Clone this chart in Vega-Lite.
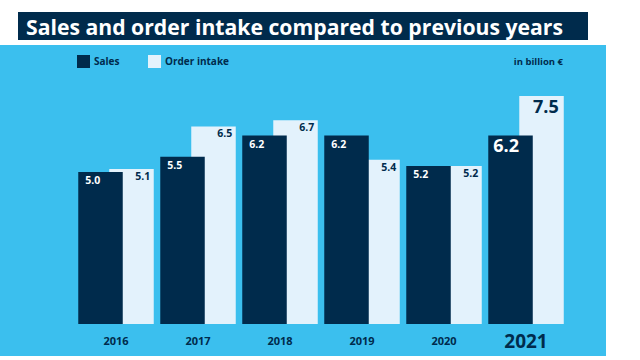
{
  "$schema": "https://vega.github.io/schema/vega-lite/v6.json",
  "background": "white",
  "padding": {"left": 0, "top": 12, "right": 0, "bottom": 0},
  "spacing": 5,
  "center": true,
  "config": {"font": "Open Sans", "view": {"stroke": null}},
  "data": {"values": [
    {"year": "2016", "series": "Sales", "value": 5.0},
    {"year": "2016", "series": "Order intake", "value": 5.1},
    {"year": "2017", "series": "Sales", "value": 5.5},
    {"year": "2017", "series": "Order intake", "value": 6.5},
    {"year": "2018", "series": "Sales", "value": 6.2},
    {"year": "2018", "series": "Order intake", "value": 6.7},
    {"year": "2019", "series": "Sales", "value": 6.2},
    {"year": "2019", "series": "Order intake", "value": 5.4},
    {"year": "2020", "series": "Sales", "value": 5.2},
    {"year": "2020", "series": "Order intake", "value": 5.2},
    {"year": "2021", "series": "Sales", "value": 6.2},
    {"year": "2021", "series": "Order intake", "value": 7.5}
  ]},
  "vconcat": [
    {
      "width": 570,
      "height": 28,
      "view": {"fill": "#002b4c", "stroke": null},
      "title": {"text": "Sales and order intake compared to previous years", "anchor": "start", "orient": "top", "offset": -27, "dx": 8, "color": "white", "fontSize": 21.2, "fontWeight": "bold", "font": "Open Sans"},
      "mark": {"type": "text", "opacity": 0},
      "encoding": {"text": {"value": ""}}
    },
    {
      "width": 606,
      "height": 311,
      "view": {"fill": "#3bbfee", "stroke": null},
      "encoding": {
        "x": {"field": "year", "type": "nominal", "axis": null,
              "scale": {"type": "band", "paddingInner": 0, "paddingOuter": 0.695, "align": 0.658}},
        "y": {"type": "quantitative", "axis": null,
              "scale": {"domain": [-1.053, 9.178], "nice": false, "zero": false}}
      },
      "layer": [
        {
          "transform": [{"filter": "datum.series == 'Order intake'"}],
          "mark": {"type": "bar", "width": 44.5, "xOffset": 15.5},
          "encoding": {
            "y": {"field": "value"},
            "y2": {"datum": 0},
            "color": {"field": "series", "type": "nominal",
              "scale": {"domain": ["Sales", "Order intake"], "range": ["#002b4c", "#e3f2fc"]},
              "legend": {"orient": "none", "legendX": 77, "legendY": 43, "direction": "horizontal", "title": null,
                "symbolType": "square", "symbolSize": 169, "symbolStrokeWidth": 0, "symbolOpacity": 1,
                "labelFont": "Open Sans", "labelFontSize": 10, "labelFontWeight": "bold", "labelColor": "#002b4c",
                "columnPadding": 28, "labelOffset": 4}}
          }
        },
        {
          "transform": [{"filter": "datum.series == 'Sales'"}],
          "mark": {"type": "bar", "width": 44.5, "xOffset": -15.5},
          "encoding": {
            "y": {"field": "value"},
            "y2": {"datum": 0},
            "color": {"field": "series", "type": "nominal"}
          }
        },
        {
          "transform": [{"filter": "datum.series == 'Sales' && datum.year != '2021'"}],
          "mark": {"type": "text", "align": "left", "baseline": "middle", "xOffset": -30.75, "dy": 9, "fontSize": 10.5, "fontWeight": "bold", "color": "white"},
          "encoding": {"y": {"field": "value"}, "text": {"field": "value", "format": ".1f"}}
        },
        {
          "transform": [{"filter": "datum.series == 'Order intake' && datum.year != '2021'"}],
          "mark": {"type": "text", "align": "right", "baseline": "middle", "xOffset": 34.25, "dy": 8, "fontSize": 10.5, "fontWeight": "bold", "color": "#002b4c"},
          "encoding": {"y": {"field": "value"}, "text": {"field": "value", "format": ".1f"}}
        },
        {
          "transform": [{"filter": "datum.series == 'Sales' && datum.year == '2021'"}],
          "mark": {"type": "text", "align": "left", "baseline": "middle", "xOffset": -32.75, "dy": 11, "fontSize": 18, "fontWeight": "bold", "color": "white"},
          "encoding": {"y": {"field": "value"}, "text": {"field": "value", "format": ".1f"}}
        },
        {
          "transform": [{"filter": "datum.series == 'Order intake' && datum.year == '2021'"}],
          "mark": {"type": "text", "align": "right", "baseline": "middle", "xOffset": 32.75, "dy": 12, "fontSize": 18, "fontWeight": "bold", "color": "#002b4c"},
          "encoding": {"y": {"field": "value"}, "text": {"field": "value", "format": ".1f"}}
        },
        {
          "transform": [{"filter": "datum.series == 'Sales'"}],
          "mark": {"type": "text", "align": "center", "baseline": "middle", "fontWeight": "bold", "color": "#002b4c"},
          "encoding": {
            "y": {"datum": -0.59},
            "text": {"field": "year"},
            "size": {"condition": {"test": "datum.year == '2021'", "value": 19}, "value": 11}
          }
        },
        {
          "transform": [{"filter": "datum.series == 'Sales' && datum.year == '2021'"}],
          "mark": {"type": "text", "align": "right", "baseline": "middle", "xOffset": 37, "fontSize": 9.5, "fontWeight": "bold", "color": "#002b4c"},
          "encoding": {"y": {"datum": 8.62}, "text": {"value": "in billion €"}}
        }
      ]
    }
  ]
}
